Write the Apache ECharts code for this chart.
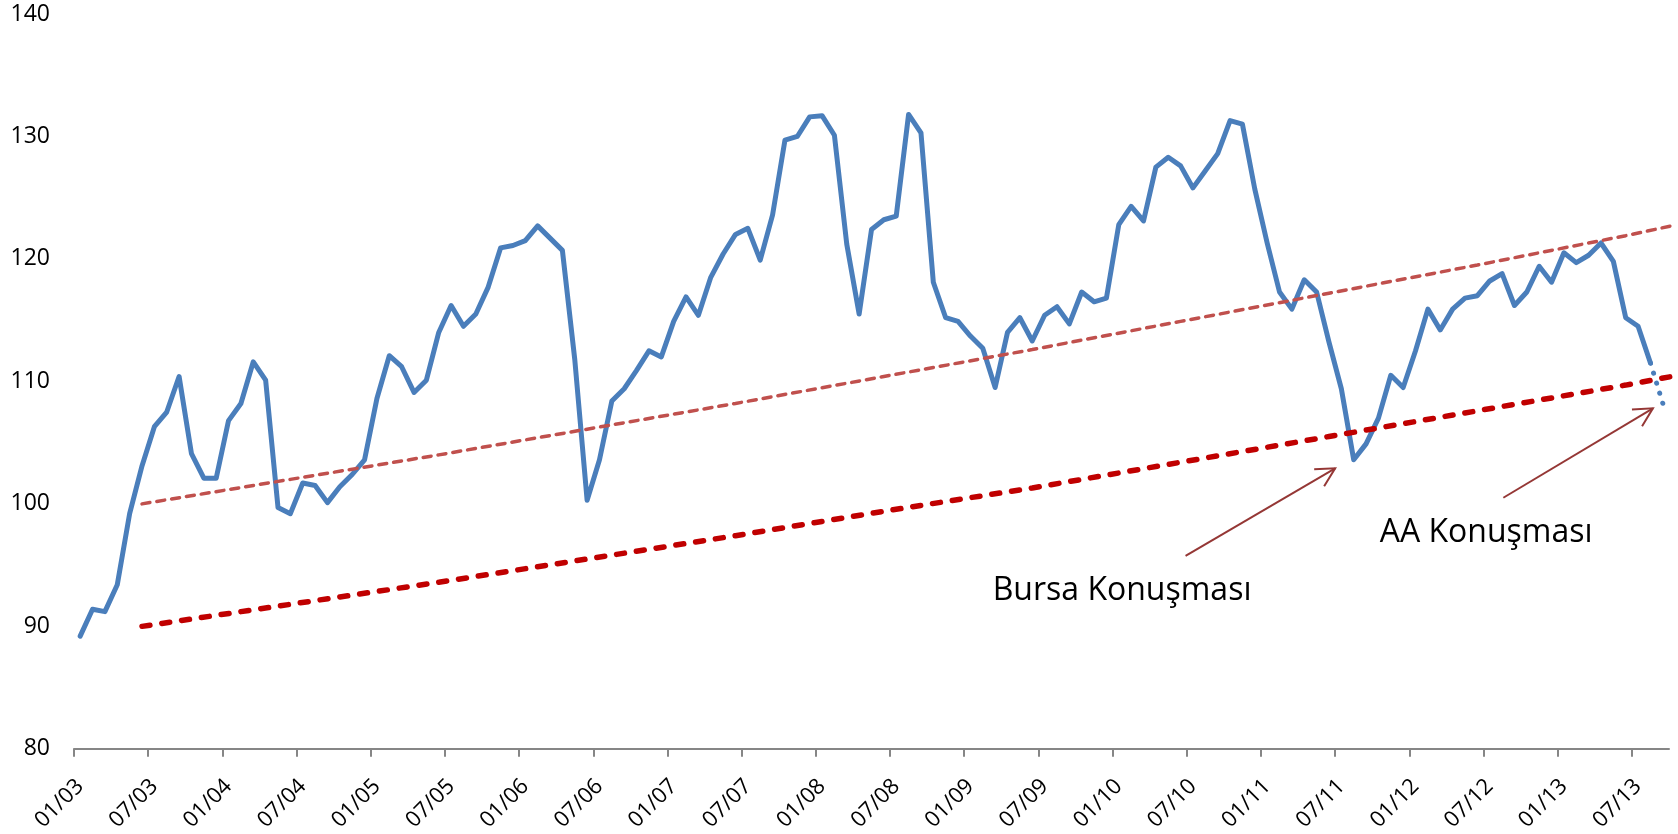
<!DOCTYPE html>
<html>
<head>
<meta charset="utf-8">
<script src="https://cdn.jsdelivr.net/npm/echarts@6/dist/echarts.min.js"></script>
<style>
  html, body { margin: 0; padding: 0; background: #fff; }
  #chart { width: 1678px; height: 834px; }
</style>
</head>
<body>
<div id="chart"></div>
<script>
// ---- categories: monthly, 01/03 .. 09/13 ----
const startYear = 2003, monthCount = 129;
const categories = [];
for (let i = 0; i < monthCount; i++) {
  const m = (i % 12) + 1, y = startYear + Math.floor(i / 12);
  categories.push(String(m).padStart(2, '0') + '/' + String(y % 100).padStart(2, '0'));
}

// ---- index values (one per month) ----
const indexValues = [
  89.2, 91.4, 91.2, 93.4, 99.2, 103.1, 106.3, 107.5, 110.4, 104.1, 102.1, 102.1, // 2003
  106.8, 108.2, 111.6, 110.1, 99.7, 99.2, 101.7, 101.5, 100.1, 101.4, 102.4, 103.6, // 2004
  108.6, 112.1, 111.2, 109.1, 110.1, 114.0, 116.2, 114.5, 115.5, 117.7, 120.9, 121.1, // 2005
  121.5, 122.7, 121.7, 120.7, 111.8, 100.3, 103.6, 108.4, 109.4, 110.9, 112.5, 112.0, // 2006
  114.9, 116.9, 115.4, 118.5, 120.4, 122.0, 122.5, 119.9, 123.6, 129.7, 130.0, 131.6, // 2007
  131.7, 130.1, 121.2, 115.5, 122.4, 123.2, 123.5, 131.8, 130.3, 118.1, 115.2, 114.9, // 2008
  113.7, 112.7, 109.5, 114.0, 115.2, 113.3, 115.4, 116.1, 114.7, 117.3, 116.5, 116.8, // 2009
  122.8, 124.3, 123.1, 127.5, 128.3, 127.6, 125.8, 127.2, 128.6, 131.3, 131.0, 125.7, // 2010
  121.3, 117.3, 115.9, 118.3, 117.3, 113.2, 109.4, 103.6, 104.9, 107.0, 110.5, 109.5, // 2011
  112.5, 115.9, 114.2, 115.9, 116.8, 117.0, 118.2, 118.8, 116.2, 117.3, 119.4, 118.1, // 2012
  120.5, 119.7, 120.3, 121.3, 119.8, 115.2, 114.5, 111.5, 108.2                       // 2013
];
const lastSolidIndex = 127; // the final month is drawn dotted

// ---- x-axis tick positions (months from axis start: every January / July) ----
const tickMonths = [0, 6, 12, 18, 24, 30, 36, 42, 48, 54, 60, 66, 72, 78, 84, 90, 96, 102, 108, 114, 120, 126];

// ---- trend lines (x in months from the axis start, y) ----
const trendX     = [5.5, 17.5, 29.5, 41.5, 53.5, 65.5, 77.5, 89.5, 101.5, 113.5, 125.5, 129.2];
const upperTrend = [100.0, 102.0, 104.0, 106.1, 108.2, 110.4, 112.6, 114.9, 117.2, 119.5, 121.9, 122.7];
const lowerTrend = [90.0, 91.8, 93.6, 95.5, 97.4, 99.4, 101.3, 103.4, 105.5, 107.6, 109.7, 110.4];

// ---- y axis ----
const yMin = 80, yMax = 140, yStep = 10;

// ---- annotations (data units: months from axis start, index value) ----
const annotations = [
  { text: 'Bursa Konuşması', textAt: [74.3, 92.85], from: [89.9, 95.75], to: [102.0, 102.9] },
  { text: 'AA Konuşması',    textAt: [105.6, 97.56], from: [115.6, 100.5], to: [127.7, 107.8] }
];

const solidData  = indexValues.map((v, i) => (i <= lastSolidIndex ? v : null));
const dottedData = indexValues.map((v, i) => (i >= lastSolidIndex ? v : null));
const upperData  = trendX.map((x, i) => [x, upperTrend[i]]);
const lowerData  = trendX.map((x, i) => [x, lowerTrend[i]]);

const FONT = '"Open Sans", "Noto Sans", sans-serif';
const AXIS_GRAY = '#868686';

const chart = echarts.init(document.getElementById('chart'), null, { renderer: 'canvas' });
chart.setOption({
  animation: false,
  backgroundColor: '#ffffff',
  grid: { left: 74, right: 9, top: 14, bottom: 83, containLabel: false },
  xAxis: [
    {
      type: 'category', data: categories, boundaryGap: true,
      axisLine: { show: true, lineStyle: { color: AXIS_GRAY, width: 2 } },
      axisTick: { show: false },
      axisLabel: {
        interval: 5, rotate: 45, margin: 34,
        color: '#000', fontFamily: FONT, fontSize: 22
      },
      splitLine: { show: false }
    },
    {
      type: 'value', min: 0, max: monthCount, position: 'bottom',
      axisLine: { show: false },
      axisTick: { show: true, length: 8, customValues: tickMonths,
                  lineStyle: { color: AXIS_GRAY, width: 2 } },
      axisLabel: { show: false },
      splitLine: { show: false }
    }
  ],
  yAxis: {
    type: 'value', min: yMin, max: yMax, interval: yStep,
    axisLine: { show: false }, axisTick: { show: false }, splitLine: { show: false },
    axisLabel: { margin: 24, color: '#000', fontFamily: FONT, fontSize: 23 }
  },
  series: [
    {
      name: 'Endeks', type: 'line', xAxisIndex: 0, yAxisIndex: 0,
      data: solidData, symbol: 'none', connectNulls: false, z: 2,
      lineStyle: { color: '#4A7EBB', width: 5, join: 'round', cap: 'round' }
    },
    {
      name: 'Endeks (son)', type: 'line', xAxisIndex: 0, yAxisIndex: 0,
      data: dottedData, symbol: 'none', connectNulls: false, z: 2,
      lineStyle: { color: '#4A7EBB', width: 5, type: [0.1, 10.4], cap: 'round' }
    },
    {
      name: 'Üst trend', type: 'line', xAxisIndex: 1, yAxisIndex: 0,
      data: upperData, symbol: 'none', clip: false, z: 3,
      lineStyle: { color: '#C0504D', width: 3.5, type: [8, 7], cap: 'round' }
    },
    {
      name: 'Alt trend', type: 'line', xAxisIndex: 1, yAxisIndex: 0,
      data: lowerData, symbol: 'none', clip: false, z: 3,
      lineStyle: { color: '#C00000', width: 5.5, type: [8, 12], cap: 'round' }
    }
  ]
});

// ---- annotation arrows and texts, positioned through the chart's own scales ----
function toPx(p) { return chart.convertToPixel({ xAxisIndex: 1, yAxisIndex: 0 }, p); }
const ARROW = '#953735';
const graphics = [];
annotations.forEach(a => {
  const s = toPx(a.from), t = toPx(a.to), tp = toPx(a.textAt);
  const ang = Math.atan2(s[1] - t[1], s[0] - t[0]);
  const L = 21, half = 28 * Math.PI / 180;
  const arm1 = [t[0] + L * Math.cos(ang + half), t[1] + L * Math.sin(ang + half)];
  const arm2 = [t[0] + L * Math.cos(ang - half), t[1] + L * Math.sin(ang - half)];
  graphics.push({ type: 'line', shape: { x1: s[0], y1: s[1], x2: t[0], y2: t[1] },
                  style: { stroke: ARROW, lineWidth: 2 }, z: 10 });
  graphics.push({ type: 'polyline', shape: { points: [arm1, t, arm2] },
                  style: { stroke: ARROW, lineWidth: 2, fill: null }, z: 10 });
  graphics.push({ type: 'text', x: tp[0], y: tp[1] - 1, z: 10,
                  style: { text: a.text, fill: '#000', font: '32px ' + FONT,
                           align: 'left', verticalAlign: 'middle' } });
});
chart.setOption({ graphic: graphics });
</script>
</body>
</html>
